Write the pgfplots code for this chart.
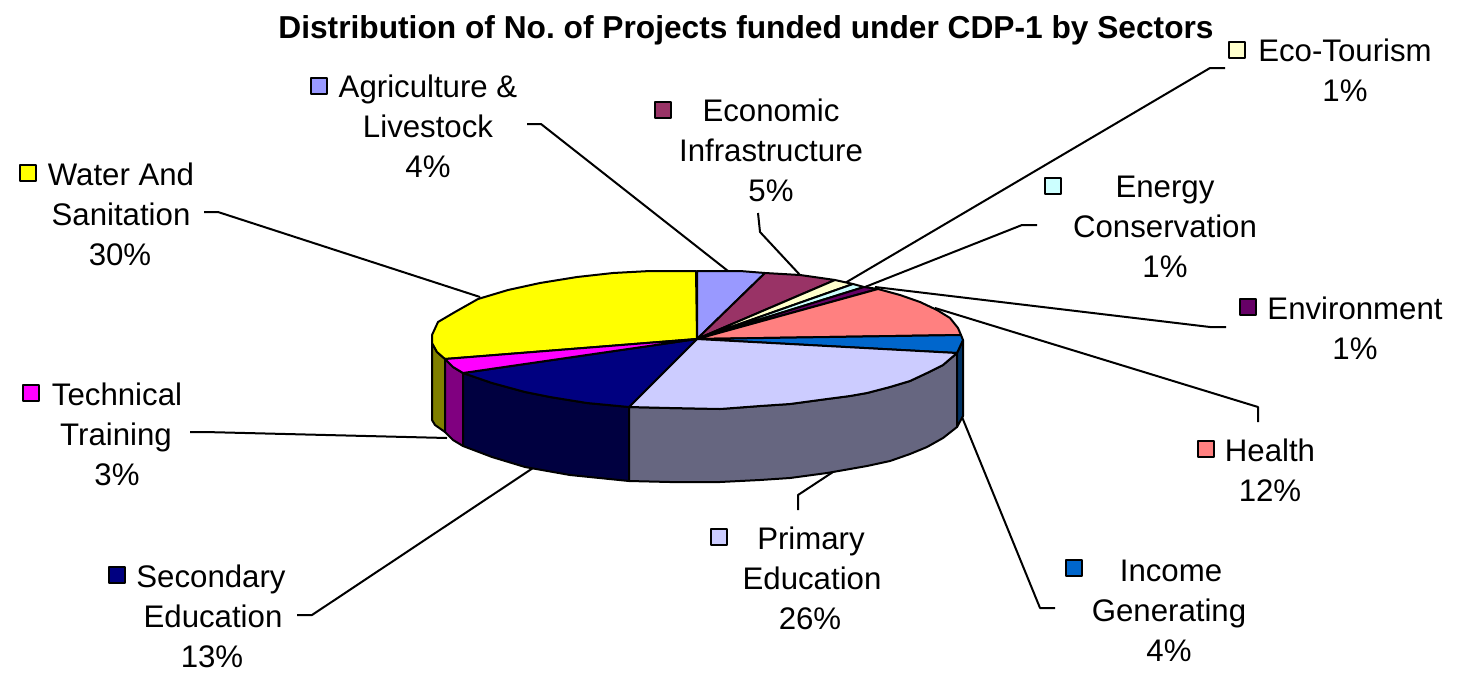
\documentclass[border=0pt]{standalone}
\usepackage{pgfplots}
\usepackage{fontspec}
\setmainfont{Liberation Sans}
\pgfplotsset{compat=1.18}
\definecolor{cWater}{HTML}{FFFF00}
\definecolor{cAgri}{HTML}{9999FF}
\definecolor{cEcon}{HTML}{993366}
\definecolor{cEco}{HTML}{FFFFCC}
\definecolor{cEnergy}{HTML}{CCFFFF}
\definecolor{cEnv}{HTML}{660066}
\definecolor{cHealth}{HTML}{FF8080}
\definecolor{cIncome}{HTML}{0066CC}
\definecolor{cPrimary}{HTML}{CCCCFF}
\definecolor{cSecondary}{HTML}{000080}
\definecolor{cTech}{HTML}{FF00FF}
\definecolor{dWater}{HTML}{808000}
\definecolor{dTech}{HTML}{800080}
\definecolor{dSecondary}{HTML}{000040}
\definecolor{dPrimary}{HTML}{666680}
\definecolor{dIncome}{HTML}{003366}
\newcommand{\lab}[3]{\node[anchor=base,inner sep=0pt,font=\fontsize{15.6pt}{20pt}\selectfont] at (axis cs:#1,#2) {#3};}
\begin{document}
\begin{tikzpicture}
\begin{axis}[
  x=0.5pt,y=0.5pt,y dir=reverse,
  xmin=0,xmax=1465,ymin=0,ymax=675,
  hide axis,clip=false,
  scale only axis,
  every axis plot/.append style={line width=1pt,line join=round,mark=none},
]
\path (axis cs:0,0) rectangle (axis cs:1465,675);
% leader lines
\addplot[black] coordinates {(204,212)(218,212)(480,297)};
\addplot[black] coordinates {(527,124)(541,124)(728,271)};
\addplot[black] coordinates {(758,213)(760,232)(800,275)};
\addplot[black] coordinates {(1225,68)(1210,68)(845,283)};
\addplot[black] coordinates {(1037,225)(1022,225)(865,287)};
\addplot[black] coordinates {(1226,327)(1210,327)(875,287)};
\addplot[black] coordinates {(1258,422)(1258,407)(935,308)};
\addplot[black] coordinates {(1055,608)(1040,608)(962,417)};
\addplot[black] coordinates {(798,510)(798,495)(836,470)};
\addplot[black] coordinates {(297,615)(312,615)(533,468)};
\addplot[black] coordinates {(190,432)(205,432)(447,438)};
% side walls
\addplot[fill=dWater,draw=black] coordinates {(432,343)(437,352)(445,359)(445,432)(435,425)(432,420)} --cycle;
\addplot[fill=dTech,draw=black] coordinates {(445,359)(453,367)(463,373)(463,446)(453,440)(445,432)} --cycle;
\addplot[fill=dSecondary,draw=black] coordinates {(463,373)(492,383)(525,392)(550,397)(587,403)(629,407)(629,481)(570,475)(525,467)(492,457)(463,446)} --cycle;
\addplot[fill=dPrimary,draw=black] coordinates {(629,407)(670,408)(720,409)(760,406)(790,404)(827,399)(850,396)(867,393)(890,387)(910,381)(927,373)(943,365)(957,353)(957,427)(943,438)(927,447)(910,454)(890,461)(867,466)(850,469)(827,473)(790,478)(760,480)(720,482)(670,482)(629,481)} --cycle;
\addplot[fill=dIncome,draw=black] coordinates {(957,353)(963,340)(963,416)(957,427)} --cycle;
% top face
\addplot[fill=cWater,draw=black] coordinates {(697,339)(696,271)(650,271)(613,273)(577,277)(540,283)(508,290)(478,299)(455,312)(438,322)(432,335)(432,343)(437,352)(445,359)} --cycle;
\addplot[fill=cAgri,draw=black] coordinates {(697,339)(697,271)(740,271)(765,273)} --cycle;
\addplot[fill=cEcon,draw=black] coordinates {(697,339)(765,273)(800,275)(835,280)} --cycle;
\addplot[fill=cEco,draw=black] coordinates {(697,339)(835,280)(853,284)} --cycle;
\addplot[fill=cEnergy,draw=black] coordinates {(697,339)(853,284)(864,287)} --cycle;
\addplot[fill=cEnv,draw=black] coordinates {(697,339)(864,287)(878,289)} --cycle;
\addplot[fill=cHealth,draw=black] coordinates {(697,339)(878,289)(900,295)(920,302)(937,310)(950,318)(958,328)(961,335)} --cycle;
\addplot[fill=cIncome,draw=black] coordinates {(697,339)(961,335)(963,340)(957,353)} --cycle;
\addplot[fill=cPrimary,draw=black] coordinates {(697,339)(957,353)(943,365)(927,373)(910,381)(890,387)(867,393)(850,396)(827,399)(790,404)(760,406)(720,409)(670,408)(629,407)} --cycle;
\addplot[fill=cSecondary,draw=black] coordinates {(697,339)(629,407)(587,403)(550,397)(525,392)(492,383)(463,373)} --cycle;
\addplot[fill=cTech,draw=black] coordinates {(697,339)(463,373)(453,367)(445,359)} --cycle;
% legend keys
\addplot[only marks,mark=square*,mark size=4pt,mark options={fill=cEco,draw=black,line width=1pt}] coordinates {(1237,50)};
\addplot[only marks,mark=square*,mark size=4pt,mark options={fill=cAgri,draw=black,line width=1pt}] coordinates {(319,86)};
\addplot[only marks,mark=square*,mark size=4pt,mark options={fill=cEcon,draw=black,line width=1pt}] coordinates {(663,110)};
\addplot[only marks,mark=square*,mark size=4pt,mark options={fill=cEnergy,draw=black,line width=1pt}] coordinates {(1053,186)};
\addplot[only marks,mark=square*,mark size=4pt,mark options={fill=cEnv,draw=black,line width=1pt}] coordinates {(1248,307)};
\addplot[only marks,mark=square*,mark size=4pt,mark options={fill=cHealth,draw=black,line width=1pt}] coordinates {(1206,449)};
\addplot[only marks,mark=square*,mark size=4pt,mark options={fill=cIncome,draw=black,line width=1pt}] coordinates {(1074,568)};
\addplot[only marks,mark=square*,mark size=4pt,mark options={fill=cPrimary,draw=black,line width=1pt}] coordinates {(719,537)};
\addplot[only marks,mark=square*,mark size=4pt,mark options={fill=cSecondary,draw=black,line width=1pt}] coordinates {(117,575)};
\addplot[only marks,mark=square*,mark size=4pt,mark options={fill=cTech,draw=black,line width=1pt}] coordinates {(31,393)};
\addplot[only marks,mark=square*,mark size=4pt,mark options={fill=cWater,draw=black,line width=1pt}] coordinates {(28,173)};
% texts
\node[anchor=base,inner sep=0pt,font=\fontsize{15.85pt}{18pt}\selectfont\bfseries] at (axis cs:746,38) {Distribution of No.\ of Projects funded under CDP-1 by Sectors};
\lab{1345}{61}{Eco-Tourism}\lab{1345}{101}{1\%}
\lab{428}{97}{Agriculture \&}\lab{428}{137}{Livestock}\lab{428}{177}{4\%}
\lab{771}{121}{Economic}\lab{771}{161}{Infrastructure}\lab{771}{201}{5\%}
\lab{1165}{197}{Energy}\lab{1165}{237}{Conservation}\lab{1165}{277}{1\%}
\lab{1355}{319}{Environment}\lab{1355}{359}{1\%}
\lab{1270}{461}{Health}\lab{1270}{501}{12\%}
\lab{1171}{581}{Income}\lab{1169}{621}{Generating}\lab{1169}{661}{4\%}
\lab{811}{549}{Primary}\lab{812}{589}{Education}\lab{810}{629}{26\%}
\lab{211}{587}{Secondary}\lab{213}{627}{Education}\lab{212}{667}{13\%}
\lab{117}{405}{Technical}\lab{116}{445}{Training}\lab{117}{485}{3\%}
\lab{121}{185}{Water And}\lab{121}{225}{Sanitation}\lab{120}{265}{30\%}
\end{axis}
\end{tikzpicture}
\end{document}
